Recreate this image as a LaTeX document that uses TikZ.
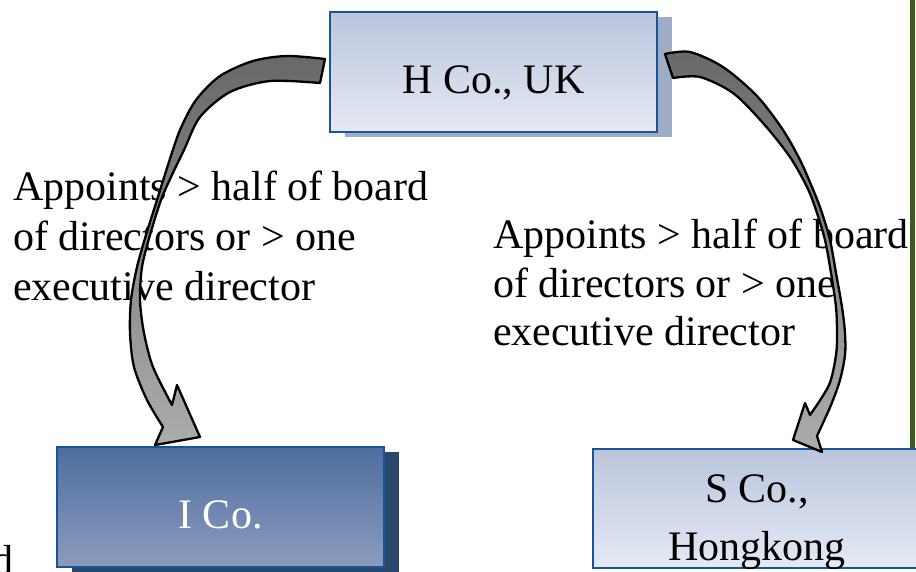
\documentclass[tikz,border=0pt]{standalone}
\usepackage{fontspec}
\setmainfont{Liberation Serif}
\usetikzlibrary{shadows}
\definecolor{boxline}{RGB}{26,84,150}
\definecolor{lightTop}{RGB}{186,197,220}
\definecolor{lightBottom}{RGB}{229,233,244}
\definecolor{darkTop}{RGB}{78,109,160}
\definecolor{darkBottom}{RGB}{140,156,190}
\definecolor{hshade}{RGB}{157,173,197}
\definecolor{ishade}{RGB}{42,72,108}
\definecolor{arrowTop}{RGB}{104,104,104}
\definecolor{arrowBottom}{RGB}{172,172,172}
\definecolor{barGreen}{RGB}{60,90,30}
\begin{document}
\begin{tikzpicture}[x=1pt,y=-1pt,
  every node/.style={inner sep=0pt, outer sep=0pt},
  box/.style={draw=boxline, line width=2.2pt, minimum width=327pt, minimum height=120pt},
  lightbox/.style={box, top color=lightTop, bottom color=lightBottom},
  darkbox/.style={box, top color=darkTop, bottom color=darkBottom, text=white},
  boxlabel/.style={font=\fontsize{42}{50}\selectfont, text height=42pt, text depth=0pt},
  curvedarrow/.style={draw=black, line width=2.3pt, line join=round, top color=arrowTop, bottom color=arrowBottom},
  note/.style={align=left, anchor=north west}]
\useasboundingbox (0,0) rectangle (916,571);
\clip (0,0) rectangle (916,571);

% vertical green rule at the right edge
\fill[barGreen] (910,0) rectangle (915,449);

% company boxes
\node[lightbox, boxlabel, general shadow={fill=hshade, shadow xshift=15pt, shadow yshift=-5pt}] (h) at (493.5,72) {H Co., UK};
\node[darkbox, boxlabel, general shadow={fill=ishade, shadow xshift=15pt, shadow yshift=-5pt}] (i) at (220.5,507) {I Co.};
\node[lightbox, minimum width=328pt, minimum height=119pt] (s) at (757,508.5) {};
\node[font=\fontsize{42}{58}\selectfont, align=center, anchor=north] (slabel) at (757,475) {S Co.,\\Hongkong};

% appointment notes
\node[note, font=\fontsize{42}{50}\selectfont] (lnote) at (13,171)
  {Appoints > half of board\\of directors or > one\\executive director};
\node[note, font=\fontsize{42}{48.5}\selectfont] (rnote) at (493,219)
  {Appoints > half of board\\of directors or > one\\executive director};

% curved arrow from H Co. down to I Co.
\path[curvedarrow]
  plot[smooth, tension=0.5] coordinates {(325,59) (287,56) (253,61) (220,76) (196,100) (180,130) (168,165) (157,200) (146,235) (137,267) (131,300) (130,333) (134,367) (147,400) (163,427)}
  -- (155,445) -- (200,437) -- (177,385) -- (172,405)
  -- plot[smooth, tension=0.5] coordinates {(172,405) (153,367) (144,333) (140,300) (142,267) (150,235) (161,200) (171,177) (184,150) (200,117) (230,92) (270,81) (320,83)}
  -- cycle;

% curved arrow from H Co. down to S Co.
\path[curvedarrow]
  plot[smooth, tension=0.5] coordinates {(665,54) (690,52) (723,67) (757,96) (783,130) (800,160) (812,187) (821,210) (830,240) (836,273) (842,307) (845,333) (845,355) (840,380) (831,405) (817,436)}
  -- (822,452) -- (793,440) -- (805,403) -- (810,415)
  -- plot[smooth, tension=0.5] coordinates {(810,415) (829,385) (836,355) (837,333) (836,307) (831,273) (825,240) (816,210) (807,187) (790,157) (763,123) (733,93) (700,77) (673,78)}
  -- cycle;

% cut-off letter at the lower left
\node[font=\fontsize{42}{50}\selectfont, anchor=base east] (frag) at (14,574) {d};
\end{tikzpicture}
\end{document}
